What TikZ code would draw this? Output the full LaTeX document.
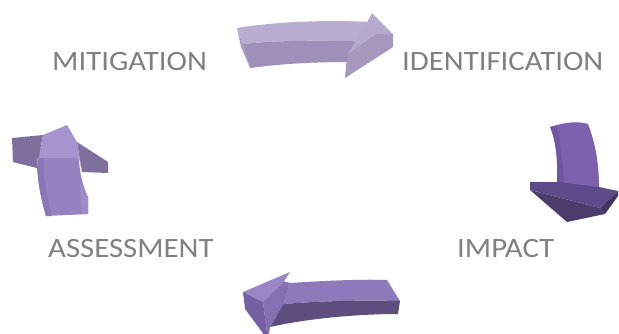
\documentclass[tikz,border=0pt]{standalone}
\usepackage{fontspec}
\setmainfont{Carlito}
\newfontfamily\lblfont[FakeStretch=1.1]{Carlito}
\begin{document}
\begin{tikzpicture}[x=1pt,y=-1pt,
  lbl/.style={text=black!50, font=\lblfont\fontsize{28}{28}\selectfont, inner sep=0pt, anchor=base west}]
\useasboundingbox (0,0) rectangle (619,333);
\clip (0,0) rectangle (619,333);
% colours
\definecolor{tTop}{HTML}{B8ACD0}
\definecolor{tFront}{HTML}{9E90B8}
\definecolor{tEnd}{HTML}{AA9DC4}
\definecolor{tHeadL}{HTML}{B6AACE}
\definecolor{tHeadD}{HTML}{A597BD}
\definecolor{rShaft}{HTML}{7D61AF}
\definecolor{rShaftL}{HTML}{6F56A1}
\definecolor{rTop}{HTML}{5E4A88}
\definecolor{rFront}{HTML}{4B3C6C}
\definecolor{rRight}{HTML}{433562}
\definecolor{bTop}{HTML}{8E79BB}
\definecolor{bFront}{HTML}{5E4E80}
\definecolor{bHeadL}{HTML}{9A87C6}
\definecolor{bHeadM}{HTML}{8670B4}
\definecolor{bHeadD}{HTML}{7460A2}
\definecolor{lHead}{HTML}{A694CF}
\definecolor{lWing}{HTML}{7E6F9E}
\definecolor{lShaft}{HTML}{9682C0}
\definecolor{lShaftL}{HTML}{8A76B5}
\definecolor{lBase}{HTML}{A08DC8}

% ---------- top arrow (mitigation -> identification)
\fill[tEnd] (237,28) -- (243,44) -- (250,68) -- (241,47) -- cycle;
\fill[tTop] (237,28) .. controls (280,21) and (330,20) .. (372,22) -- (372,42)
  .. controls (330,40) and (280,40) .. (243,44) -- cycle;
\fill[tFront] (243,44) .. controls (280,40) and (330,40) .. (372,42) -- (372,58)
  -- (350,62) .. controls (310,62) and (280,64) .. (250,68) -- cycle;
\fill[tHeadL] (372,13) -- (393,34) -- (376,34) -- (347,55) -- (360,35) -- cycle;
\fill[tHeadD] (376,34) -- (393,34) -- (393,47) -- (345,78) -- (347,55) -- cycle;

% ---------- right arrow (identification -> impact)
\fill[rShaft] (550,127) .. controls (565,122) and (578,121) .. (588,124)
  .. controls (596,145) and (599,165) .. (599,188) -- (557,184)
  .. controls (558,160) and (556,140) .. (550,127) -- cycle;
\fill[rShaftL] (550,127) .. controls (554,126) and (556,126) .. (558,130)
  .. controls (561,150) and (563,165) .. (564,184) -- (557,184)
  .. controls (558,160) and (556,140) .. (550,127) -- cycle;
\fill[rFront] (530,190) -- (600,208) -- (605,214) -- (567,222) -- cycle;
\fill[rRight] (600,208) -- (618,191) -- (618,196) -- (605,214) -- cycle;
\fill[rTop] (530,182) -- (557,182) -- (599,187) -- (618,191) -- (600,208) -- (530,190) -- cycle;

% ---------- bottom arrow (impact -> assessment)
\fill[bTop] (290,283) .. controls (320,281) and (360,279) .. (387,280) -- (400,301)
  .. controls (360,300) and (320,301) .. (283,304) -- cycle;
\fill[bFront] (283,304) .. controls (320,301) and (360,300) .. (400,301) -- (398,314)
  .. controls (360,314) and (310,318) .. (270,327) -- cycle;
\fill[bHeadM] (283,281) -- (290,283) -- (283,305) -- (270,327) -- (268,340) -- (263,302) -- cycle;
\fill[bHeadL] (290,272) -- (243,292) -- (263,302) -- (283,283) -- cycle;
\fill[bHeadD] (243,292) -- (263,302) -- (268,340) -- (245,309) -- cycle;

% ---------- left arrow (assessment -> mitigation)
\fill[lShaft] (37,148) -- (78,148) .. controls (79,170) and (82,185) .. (88,197)
  -- (88,214) -- (46,216) .. controls (40,195) and (36,175) .. (37,148) -- cycle;
\fill[lShaftL] (37,148) -- (44,148) .. controls (43,175) and (46,195) .. (52,216)
  -- (46,216) .. controls (40,195) and (36,175) .. (37,148) -- cycle;
\fill[lBase] (80,182) .. controls (82,188) and (85,193) .. (88,197) -- (88,214) -- (82,214) -- cycle;
\fill[lWing] (12,138) -- (43,135) -- (37,168) -- (13,162) -- cycle;
\fill[lWing] (77,142) -- (108,162) -- (108,173) -- (82,172) -- cycle;
\fill[lHead] (43,135) -- (67,125) -- (77,142) -- (82,172) -- (79,158) -- (37,158) -- (37,168) -- cycle;

% ---------- labels
\node[lbl] (mit) at (52,70) {MITIGATION};
\node[lbl] (ide) at (402,70) {IDENTIFICATION};
\node[lbl] (ass) at (48,257) {ASSESSMENT};
\node[lbl] (imp) at (457,257) {IMPACT};
\end{tikzpicture}
\end{document}
